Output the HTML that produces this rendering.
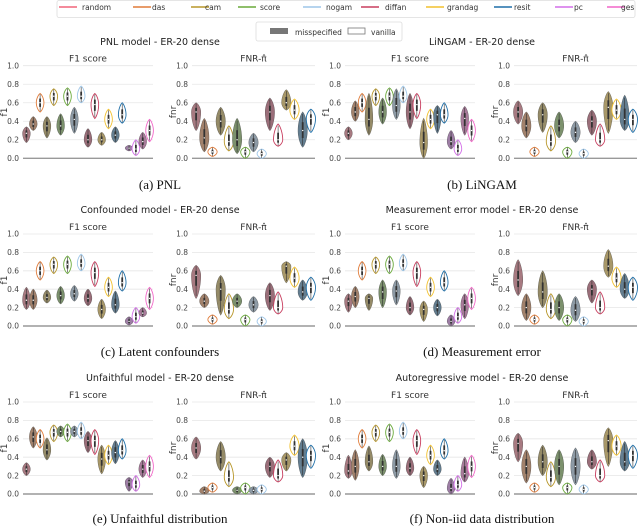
<!DOCTYPE html>
<html><head><meta charset="utf-8">
<style>
html,body{margin:0;padding:0;background:#fff;}
svg{display:block;font-family:"DejaVu Sans","Liberation Sans",sans-serif;}
.cap{font-family:"Liberation Serif",serif;font-size:13px;fill:#111;}
</style></head>
<body>
<svg id="fig" width="640" height="528" viewBox="0 0 640 528"></svg>
<script>
const methods=["random","das","cam","score","nogam","diffan","grandag","resit","pc","ges"];
const colors=["#f0657a","#e07b39","#b8972a","#6aaa3a","#9ec6e8","#c83e5f","#f2c12e","#1f6fa8","#d36fe8","#f266c8"];
const yTicks=[0,0.2,0.4,0.6,0.8,1.0];
const yTickLabels=["0.0","0.2","0.4","0.6","0.8","1.0"];
const f1Method=[0,1,1,2,2,3,3,4,4,5,5,6,6,7,7,8,8,9,9];
const f1Vanilla=[0,0,1,0,1,0,1,0,1,0,1,0,1,0,1,0,1,0,1];
const fnrMethod=[0,1,1,2,2,3,3,4,4,5,5,6,6,7,7];
const fnrVanilla=[0,0,1,0,1,0,1,0,1,0,1,0,1,0,1];
const panelTitles=["PNL model - ER-20 dense","LiNGAM - ER-20 dense","Confounded model - ER-20 dense","Measurement error model - ER-20 dense","Unfaithful model - ER-20 dense","Autoregressive model - ER-20 dense"];
const captions=["(a) PNL","(b) LiNGAM","(c) Latent confounders","(d) Measurement error","(e) Unfaithful distribution","(f) Non-iid data distribution"];
const f1A=[[.27,.17,.34],[.37,.3,.45],[.6,.5,.7],[.35,.22,.45],[.67,.57,.75],[.35,.25,.48],[.67,.57,.76],[.42,.27,.55],[.67,.6,.78],[.2,.12,.32],[.58,.43,.7],[.2,.14,.28],[.42,.32,.53],[.25,.17,.34],[.47,.38,.6],[.11,.08,.14],[.1,.03,.2],[.18,.1,.28],[.3,.18,.42]];
const fnrA=[[.5,.3,.6],[.22,.07,.43],[.07,.02,.12],[.4,.25,.55],[.18,.08,.35],[.2,.05,.43],[.07,0,.12],[.17,.07,.27],[.05,0,.1],[.5,.3,.65],[.2,.13,.37],[.6,.52,.74],[.52,.42,.64],[.3,.12,.5],[.43,.28,.53]];
const f1B=[[.27,.2,.34],[.5,.4,.62],[.6,.5,.7],[.42,.25,.7],[.67,.57,.75],[.5,.37,.65],[.67,.57,.76],[.57,.42,.75],[.67,.6,.78],[.5,.32,.7],[.58,.43,.7],[.17,0,.43],[.42,.32,.53],[.47,.27,.57],[.47,.38,.6],[.18,.1,.3],[.1,.03,.2],[.43,.25,.56],[.3,.18,.42]];
const fnrB=[[.5,.37,.62],[.35,.22,.5],[.07,.02,.12],[.47,.28,.6],[.18,.08,.35],[.35,.22,.5],[.07,0,.12],[.28,.17,.4],[.05,0,.1],[.4,.25,.52],[.2,.13,.37],[.55,.27,.72],[.52,.42,.64],[.42,.3,.68],[.42,.28,.53]];
const f1C=[[.28,.18,.42],[.28,.18,.4],[.6,.5,.7],[.31,.25,.39],[.67,.57,.75],[.33,.24,.43],[.67,.57,.76],[.35,.27,.44],[.68,.6,.78],[.3,.22,.4],[.58,.43,.7],[.18,.08,.29],[.42,.32,.53],[.23,.14,.38],[.47,.38,.6],[.05,.01,.1],[.1,.03,.2],[.14,.1,.2],[.3,.18,.42]];
const fnrC=[[.55,.3,.66],[.27,.2,.35],[.07,.02,.12],[.4,.12,.55],[.18,.08,.35],[.27,.2,.35],[.07,0,.12],[.23,.15,.32],[.05,0,.1],[.33,.17,.47],[.2,.13,.37],[.65,.47,.7],[.52,.42,.64],[.37,.28,.5],[.42,.28,.53]];
const f1D=[[.27,.15,.35],[.32,.2,.43],[.6,.5,.7],[.3,.17,.35],[.67,.57,.75],[.37,.2,.5],[.67,.57,.76],[.38,.23,.5],[.68,.6,.78],[.2,.12,.32],[.58,.43,.7],[.18,.05,.27],[.42,.32,.53],[.2,.11,.29],[.47,.38,.6],[.05,0,.12],[.1,.03,.2],[.23,.08,.35],[.3,.18,.42]];
const fnrD=[[.5,.33,.72],[.2,.06,.35],[.07,.02,.12],[.37,.2,.6],[.18,.08,.35],[.2,.06,.35],[.07,0,.12],[.17,.05,.32],[.05,0,.1],[.4,.25,.5],[.2,.13,.37],[.65,.53,.83],[.52,.42,.64],[.4,.3,.57],[.42,.28,.53]];
const f1E=[[.27,.2,.34],[.62,.5,.73],[.6,.5,.7],[.48,.37,.61],[.67,.57,.75],[.68,.62,.74],[.67,.57,.76],[.68,.62,.74],[.68,.6,.78],[.58,.45,.68],[.58,.43,.7],[.38,.22,.53],[.42,.32,.53],[.45,.33,.58],[.47,.38,.6],[.13,.03,.18],[.1,.03,.2],[.27,.18,.37],[.3,.18,.42]];
const fnrE=[[.5,.38,.62],[.03,0,.08],[.07,.02,.12],[.4,.25,.57],[.18,.08,.35],[.04,0,.08],[.07,0,.12],[.04,0,.08],[.05,0,.1],[.3,.18,.4],[.2,.13,.37],[.37,.25,.45],[.52,.42,.64],[.4,.18,.6],[.42,.28,.53]];
const f1F=[[.25,.17,.42],[.3,.15,.48],[.6,.5,.7],[.35,.25,.52],[.67,.57,.75],[.3,.2,.43],[.67,.57,.76],[.3,.17,.48],[.68,.6,.78],[.28,.2,.4],[.58,.43,.7],[.2,.07,.3],[.42,.32,.53],[.27,.2,.37],[.47,.38,.6],[.06,0,.17],[.1,.03,.2],[.22,.13,.4],[.3,.18,.42]];
const fnrF=[[.55,.35,.66],[.3,.12,.48],[.07,.02,.12],[.35,.2,.53],[.18,.08,.35],[.3,.1,.48],[.07,0,.12],[.3,.1,.5],[.05,0,.1],[.35,.27,.48],[.2,.13,.37],[.58,.3,.72],[.52,.42,.64],[.35,.25,.57],[.42,.28,.53]];
const f1Data=[f1A,f1B,f1C,f1D,f1E,f1F];
const fnrData=[fnrA,fnrB,fnrC,fnrD,fnrE,fnrF];

const NS="http://www.w3.org/2000/svg";
const svg=document.getElementById("fig");
function mk(tag,attrs,parent,text){const e=document.createElementNS(NS,tag);for(const k in attrs)e.setAttribute(k,attrs[k]);if(text!==undefined)e.textContent=text;(parent||svg).appendChild(e);return e;}

const lg=mk("g",{});


mk("rect",{x:57,y:0.5,width:578,height:17,rx:2,fill:"#fff",stroke:"#ddd","stroke-width":0.8},lg);
const lineX=[59,133,191,238,303,361,426,494,555,607];
const textX=[82,152,205,260,326,385,447,514,574,621];
methods.forEach((m,i)=>{
  const g=mk("g",{},lg);
  
  
  mk("line",{x1:lineX[i],x2:lineX[i]+18,y1:7,y2:7,stroke:colors[i],"stroke-width":1.6},g);
  mk("text",{x:textX[i],y:10,"font-size":7.5,fill:"#333"},g,m);
});
const lg2=mk("g",{});


mk("rect",{x:256,y:22,width:146,height:19,rx:2,fill:"#fff",stroke:"#ddd","stroke-width":0.8},lg2);
mk("rect",{x:270,y:28,width:18,height:6,fill:"#777"},lg2);
mk("text",{x:295,y:35,"font-size":7.5,fill:"#333"},lg2,"misspecified");
mk("rect",{x:348,y:28,width:17,height:6,fill:"#fff",stroke:"#777","stroke-width":0.8},lg2);
mk("text",{x:371,y:35,"font-size":7.5,fill:"#333"},lg2,"vanilla");

function violinPath(xc,hw,med,lo,hi,ys){
  const N=24,left=[],right=[];
  for(let k=0;k<=N;k++){
    const v=lo+(hi-lo)*k/N;
    let u=v<med?0.5*(v-lo)/Math.max(med-lo,1e-6):0.5+0.5*(v-med)/Math.max(hi-med,1e-6);
    const w=hw*Math.pow(Math.sin(Math.PI*Math.min(Math.max(u,0),1)),0.7);
    right.push([xc+w,ys(v)]);left.push([xc-w,ys(v)]);
  }
  const pts=right.concat(left.reverse());
  return "M"+pts.map(p=>p[0].toFixed(2)+","+p[1].toFixed(2)).join("L")+"Z";
}

function drawAxis(parent,x0,x1,y0,y1,name,ylab,title,data,mIdx,van,hw){
  const g=mk("g",{},parent);
  
  
  const ys=v=>y0-(y0-y1)*v;
  yTicks.forEach((t,i)=>{
    if(t>0)mk("line",{x1:x0,x2:x1,y1:ys(t),y2:ys(t),stroke:"#e6e6e6","stroke-width":0.8},g);
    mk("text",{x:x0-4,y:ys(t)+2.7,"font-size":7.5,fill:"#444","text-anchor":"end"},g,yTickLabels[i]);
  });
  mk("line",{x1:x0,x2:x1,y1:y0,y2:y0,stroke:"#999","stroke-width":1.4},g);
  const yl=mk("text",{x:0,y:0,"font-size":9,fill:"#333","text-anchor":"middle",transform:`translate(${x0-16},${(y0+y1)/2}) rotate(-90)`},g,ylab);
  
  
  const tt=mk("text",{x:(x0+x1)/2,y:y1-4,"font-size":9,fill:"#333","text-anchor":"middle"},g,title);
  
  
  const n=data.length,sw=(x1-x0)/n;
  data.forEach((d,i)=>{
    const xc=x0+(i+0.5)*sw,c=colors[mIdx[i]];
    const vg=mk("g",{},g);
    
    
    const p=violinPath(xc,hw,d[0],d[1],d[2],ys);
    if(van[i]){
      mk("path",{d:p,fill:"#fff",stroke:c,"stroke-width":0.9},vg);
    }else{
      mk("path",{d:p,fill:"#858585",stroke:"#666","stroke-width":0.6},vg);
      mk("path",{d:p,fill:c,"fill-opacity":0.32},vg);
    }
    const q1=d[0]-(d[0]-d[1])*0.45,q3=d[0]+(d[2]-d[0])*0.45;
    mk("line",{x1:xc,x2:xc,y1:ys(d[1]+(d[0]-d[1])*0.1),y2:ys(d[2]-(d[2]-d[0])*0.1),stroke:"#333","stroke-width":0.6},vg);
    mk("rect",{x:xc-0.9,y:ys(q3),width:1.8,height:ys(q1)-ys(q3),fill:"#333"},vg);
    mk("circle",{cx:xc,cy:ys(d[0]),r:0.7,fill:"#fff"},vg);
  });
}

const rowY=[[158.3,65.7],[326,234],[494,402]];
const titleY=[45,213,381];
const capY=[189,356,523];
const colOff=[0,322];
for(let p=0;p<6;p++){
  const r=Math.floor(p/2),c=p%2,ox=colOff[c];
  const pg=mk("g",{});
  
  
  const t=mk("text",{x:160+ox,y:titleY[r],"font-size":9.5,fill:"#222","text-anchor":"middle"},pg,panelTitles[p]);
  
  
  drawAxis(pg,23+ox,153+ox,rowY[r][0],rowY[r][1],'f1-chart',"f1","F1 score",f1Data[p],f1Method,f1Vanilla,3.8);
  drawAxis(pg,192+ox,315+ox,rowY[r][0],rowY[r][1],'fnr-chart',"fnr","FNR-π̂",fnrData[p],fnrMethod,fnrVanilla,4.6);
  const cp=mk("text",{x:160+ox,y:capY[r],"text-anchor":"middle",class:"cap"},pg,captions[p]);
  
  
}
</script>
</body></html>
